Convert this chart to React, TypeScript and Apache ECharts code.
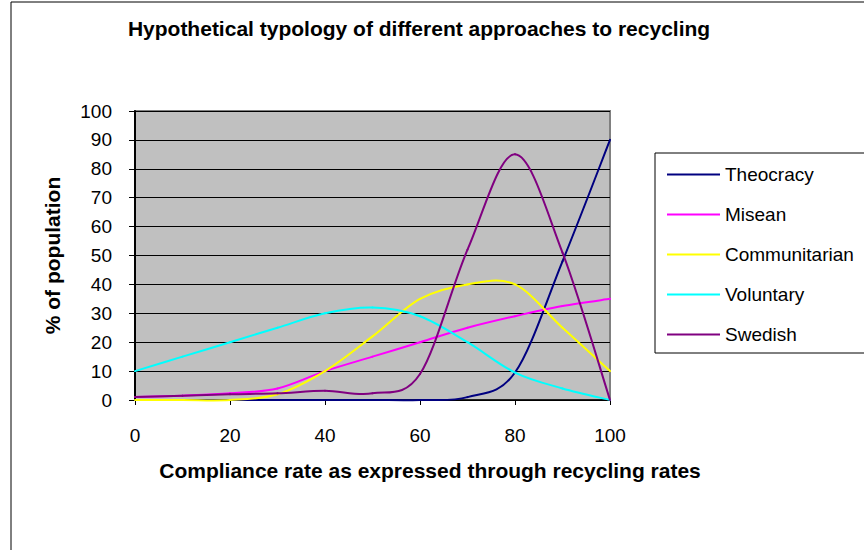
import React, { useEffect, useRef } from "react";
import * as echarts from "echarts";

const xValues = [0, 10, 20, 30, 40, 50, 60, 70, 80, 90, 100];
const theocracy = [0, 0, 0, 0, 0, 0, 0, 1, 9.5, 48, 90];
const misean = [1, 1.5, 2.3, 4, 10, 15, 20, 25, 29, 32.5, 35];
const communitarian = [0, 0, 0, 2, 10, 22, 35, 40, 40, 25, 10];
const voluntary = [10, 15, 20, 25, 30, 32, 29, 20, 9.5, 4, 0];
const swedish = [1, 1.5, 2, 2.3, 3.2, 2.3, 9, 52, 85, 51, 0];

const seriesNames = ["Theocracy", "Misean", "Communitarian", "Voluntary", "Swedish"];
const seriesValues = [theocracy, misean, communitarian, voluntary, swedish];
const seriesColors = ["#000080", "#FF00FF", "#FFFF00", "#00FFFF", "#800080"];

const chartTitle = "Hypothetical typology of different approaches to recycling";
const xTitle = "Compliance rate as expressed through recycling rates";
const yTitle = "% of population";

const FONT = "'Liberation Sans', Arial, sans-serif";

// Smoothed (Catmull-Rom style, like a spreadsheet's smoothed line) segment
// between data point j and j+1, positioned with the chart's own axes.
function makeRenderItem(values: number[], color: string) {
  return (params: any, api: any) => {
    const j = params.dataIndex;
    const n = values.length;
    if (j >= n - 1) return null;
    const pt = (k: number) => {
      const kk = Math.max(0, Math.min(n - 1, k));
      return api.coord([xValues[kk], values[kk]]);
    };
    const p0 = pt(j - 1);
    const p1 = pt(j);
    const p2 = pt(j + 1);
    const p3 = pt(j + 2);
    const t = 1 / 6;
    return {
      type: "bezierCurve",
      shape: {
        x1: p1[0],
        y1: p1[1],
        cpx1: p1[0] + (p2[0] - p0[0]) * t,
        cpy1: p1[1] + (p2[1] - p0[1]) * t,
        cpx2: p2[0] - (p3[0] - p1[0]) * t,
        cpy2: p2[1] - (p3[1] - p1[1]) * t,
        x2: p2[0],
        y2: p2[1],
      },
      style: { stroke: color, lineWidth: 2, fill: "none", lineCap: "round" },
      silent: true,
    };
  };
}

export default function App() {
  const ref = useRef<HTMLDivElement>(null);

  useEffect(() => {
    if (!ref.current) return;
    const chart = echarts.init(ref.current, undefined, { renderer: "svg" });

    const series = seriesNames.map((name, i) => ({
      name,
      type: "custom",
      coordinateSystem: "cartesian2d",
      data: xValues.map((x, j) => [x, seriesValues[i][j]]),
      encode: { x: 0, y: 1 },
      renderItem: makeRenderItem(seriesValues[i], seriesColors[i]),
      itemStyle: { color: seriesColors[i] },
      clip: false,
      z: 3 + i,
    }));

    chart.setOption({
      animation: false,
      backgroundColor: "#ffffff",
      textStyle: { fontFamily: FONT },
      graphic: [
        {
          type: "rect",
          z: -10,
          shape: { x: 11, y: 2, width: 900, height: 600 },
          style: { fill: "none", stroke: "#000", lineWidth: 1 },
          silent: true,
        },
        {
          type: "text",
          x: 419,
          y: 28,
          style: {
            text: chartTitle,
            fill: "#000",
            font: `bold 21px ${FONT}`,
            textAlign: "center",
            textVerticalAlign: "middle",
          },
        },
        {
          type: "text",
          x: 430,
          y: 470,
          style: {
            text: xTitle,
            fill: "#000",
            font: `bold 21px ${FONT}`,
            textAlign: "center",
            textVerticalAlign: "middle",
          },
        },
      ],
      grid: {
        left: 135,
        top: 111,
        width: 475,
        height: 289,
        show: true,
        backgroundColor: "#C0C0C0",
        borderColor: "#808080",
        borderWidth: 2,
      },
      legend: {
        orient: "vertical",
        left: 655,
        top: 153,
        data: seriesNames.map((name, i) => ({ name, itemStyle: { color: seriesColors[i] } })),
        icon: "rect",
        itemWidth: 53,
        itemHeight: 2,
        itemGap: 21,
        padding: [12, 40, 9, 12],
        borderColor: "#000",
        borderWidth: 1,
        backgroundColor: "#ffffff",
        textStyle: { color: "#000", fontSize: 19, fontFamily: FONT, lineHeight: 19 },
      },
      xAxis: {
        type: "value",
        min: 0,
        max: 100,
        interval: 20,
        axisLine: { show: true, lineStyle: { color: "#000", width: 1.5 } },
        axisTick: { show: true, length: 5, lineStyle: { color: "#000" } },
        axisLabel: { color: "#000", fontSize: 19, fontFamily: FONT, margin: 26 },
        splitLine: { show: false },
      },
      yAxis: {
        type: "value",
        min: 0,
        max: 100,
        interval: 10,
        name: yTitle,
        nameLocation: "middle",
        nameRotate: 90,
        nameGap: 72,
        nameTextStyle: { color: "#000", fontSize: 21, fontWeight: "bold", fontFamily: FONT },
        axisLine: { show: true, lineStyle: { color: "#000", width: 2 } },
        axisTick: { show: true, length: 6, lineStyle: { color: "#000" } },
        axisLabel: { color: "#000", fontSize: 19, fontFamily: FONT, margin: 23 },
        splitLine: { show: true, lineStyle: { color: "#000", width: 1 } },
      },
      series,
    });

    return () => chart.dispose();
  }, []);

  return (
    <div
      ref={ref}
      style={{ position: "fixed", left: 0, top: 0, width: 864, height: 550, background: "#fff" }}
    />
  );
}
